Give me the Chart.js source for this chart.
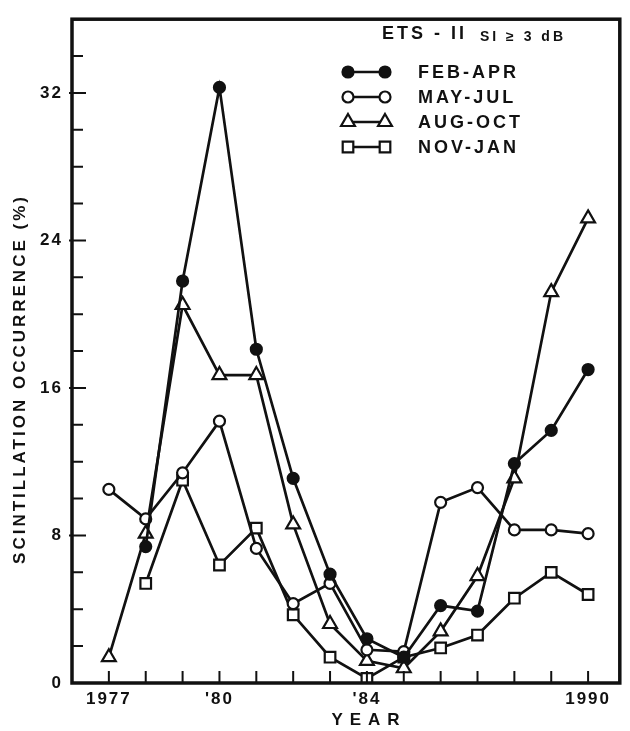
<!DOCTYPE html>
<html>
<head>
<meta charset="utf-8">
<script src="https://cdn.jsdelivr.net/npm/chart.js@4/dist/chart.umd.min.js"></script>
<style>
  html, body { margin: 0; padding: 0; background: #fff; }
  #wrap { width: 630px; height: 731px; position: relative; }
</style>
</head>
<body>
<div id="wrap"><canvas id="myChart"></canvas></div>
<script>
/* globals Chart:false */

// data
const years = [1977, 1978, 1979, 1980, 1981, 1982, 1983, 1984, 1985, 1986, 1987, 1988, 1989, 1990]
const febApr = [null, 7.4, 21.8, 32.3, 18.1, 11.1, 5.9, 2.4, 1.4, 4.2, 3.9, 11.9, 13.7, 17.0]
const mayJul = [10.5, 8.9, 11.4, 14.2, 7.3, 4.3, 5.4, 1.8, 1.7, 9.8, 10.6, 8.3, 8.3, 8.1]
const augOct = [1.4, 8.1, 20.5, 16.7, 16.7, 8.6, 3.2, 1.2, 0.8, 2.8, 5.8, 11.1, 21.2, 25.2]
const novJan = [null, 5.4, 11.0, 6.4, 8.4, 3.7, 1.4, 0.25, 1.4, 1.9, 2.6, 4.6, 6.0, 4.8]

const seriesNames = ['FEB-APR', 'MAY-JUL', 'AUG-OCT', 'NOV-JAN']
const xTickYears = [1977, 1980, 1984, 1990]
const xTickText = ['1977', "'80", "'84", '1990']
const yTickValues = [0, 8, 16, 24, 32]

const ink = '#111'
const font = "'Liberation Sans', Arial, sans-serif"

const toPoints = vals => years.map((y, i) => ({ x: y, y: vals[i] }))

const styles = [
  { pointStyle: 'circle', radius: 5.5, fill: ink },
  { pointStyle: 'circle', radius: 5.5, fill: '#fff' },
  { pointStyle: 'triangle', radius: 8, fill: '#fff' },
  { pointStyle: 'rect', radius: 7.5, fill: '#fff' }
]

const datasets = [febApr, mayJul, augOct, novJan].map((vals, i) => ({
  label: seriesNames[i],
  data: toPoints(vals),
  borderColor: ink,
  borderWidth: 2.7,
  pointStyle: styles[i].pointStyle,
  pointRadius: styles[i].radius,
  pointHoverRadius: styles[i].radius,
  pointBackgroundColor: styles[i].fill,
  pointBorderColor: ink,
  pointBorderWidth: 2.2,
  spanGaps: false,
  tension: 0
}))

function marker (ctx, kind, x, y) {
  ctx.beginPath()
  if (kind === 0 || kind === 1) {
    ctx.arc(x, y, 5.5, 0, Math.PI * 2)
  } else if (kind === 2) {
    const r = 8
    ctx.moveTo(x, y - r)
    ctx.lineTo(x + r * Math.sin(Math.PI * 2 / 3), y + r / 2)
    ctx.lineTo(x - r * Math.sin(Math.PI * 2 / 3), y + r / 2)
    ctx.closePath()
  } else {
    ctx.rect(x - 5.3, y - 5.3, 10.6, 10.6)
  }
  ctx.fillStyle = kind === 0 ? ink : '#fff'
  ctx.fill()
  ctx.lineWidth = 2.2
  ctx.strokeStyle = ink
  ctx.stroke()
}

const paperPlugin = {
  id: 'paper',
  beforeUpdate (chart) { chart.ctx.letterSpacing = '2px' },
  beforeDraw (chart) { chart.ctx.letterSpacing = '2px' },
  afterDraw (chart) {
    const { ctx, chartArea: a, scales } = chart
    ctx.save()
    ctx.strokeStyle = ink
    ctx.lineCap = 'butt'

    // frame
    ctx.lineWidth = 3.5
    ctx.strokeRect(a.left, a.top, a.right - a.left, a.bottom - a.top)

    // inward ticks
    ctx.lineWidth = 2
    ctx.beginPath()
    for (let yr = 1977; yr <= 1990; yr++) {
      const px = scales.x.getPixelForValue(yr)
      ctx.moveTo(px, a.bottom)
      ctx.lineTo(px, a.bottom - 12)
    }
    for (let v = 2; v <= 34; v += 2) {
      const py = scales.y.getPixelForValue(v)
      const major = yTickValues.includes(v)
      ctx.moveTo(a.left - (major ? 3 : 0), py)
      ctx.lineTo(a.left + (major ? 14 : 11), py)
    }
    ctx.stroke()

    ctx.fillStyle = ink
    ctx.textAlign = 'center'
    ctx.textBaseline = 'middle'

    // x axis title
    ctx.font = 'bold 17px ' + font
    ctx.letterSpacing = '7px'
    ctx.fillText('YEAR', 369, 720)

    // y axis title
    ctx.letterSpacing = '3px'
    ctx.translate(20, 379)
    ctx.rotate(-Math.PI / 2)
    ctx.fillText('SCINTILLATION OCCURRENCE (%)', 0, 0)
    ctx.setTransform(1, 0, 0, 1, 0, 0)

    // legend
    const lx = a.left + 276
    const tx = a.left + 346
    ctx.textAlign = 'left'
    ctx.font = 'bold 18px ' + font
    ctx.letterSpacing = '3px'
    ctx.fillText('ETS - II', a.left + 310, 34)
    ctx.font = 'bold 14px ' + font
    ctx.letterSpacing = '3px'
    ctx.fillText('SI ≥ 3 dB', a.left + 408, 37)

    ctx.font = 'bold 18px ' + font
    ctx.letterSpacing = '3px'
    seriesNames.forEach((name, i) => {
      const ry = 72 + i * 25
      ctx.beginPath()
      ctx.moveTo(lx, ry)
      ctx.lineTo(lx + 37, ry)
      ctx.lineWidth = 2.7
      ctx.stroke()
      marker(ctx, i, lx, ry)
      marker(ctx, i, lx + 37, ry)
      ctx.fillStyle = ink
      ctx.fillText(name, tx, ry + 1)
    })
    ctx.restore()
  }
}

const ctx = document.getElementById('myChart')
// eslint-disable-next-line no-unused-vars
const myChart = new Chart(ctx, {
  type: 'line',
  data: { datasets },
  plugins: [paperPlugin],
  options: {
    responsive: true,
    maintainAspectRatio: false,
    animation: false,
    events: [],
    layout: { padding: { top: 9, right: 6, left: 0, bottom: 0 } },
    scales: {
      x: {
        type: 'linear',
        min: 1976,
        max: 1990.86,
        afterFit: s => { s.height = 48 },
        afterBuildTicks: s => { s.ticks = xTickYears.map(v => ({ value: v })) },
        grid: { display: false, drawTicks: false },
        border: { display: false },
        ticks: {
          padding: 6,
          color: ink,
          maxRotation: 0,
          autoSkip: false,
          font: { family: font, size: 17, weight: 'bold' },
          callback: v => xTickText[xTickYears.indexOf(v)]
        }
      },
      y: {
        min: 0,
        max: 36,
        afterFit: s => { s.width = 72 },
        afterBuildTicks: s => { s.ticks = yTickValues.map(v => ({ value: v })) },
        grid: { display: false, drawTicks: false },
        border: { display: false },
        ticks: {
          padding: 9,
          color: ink,
          autoSkip: false,
          font: { family: font, size: 17, weight: 'bold' }
        }
      }
    },
    plugins: {
      legend: { display: false },
      tooltip: { enabled: false }
    }
  }
})
</script>
</body>
</html>
